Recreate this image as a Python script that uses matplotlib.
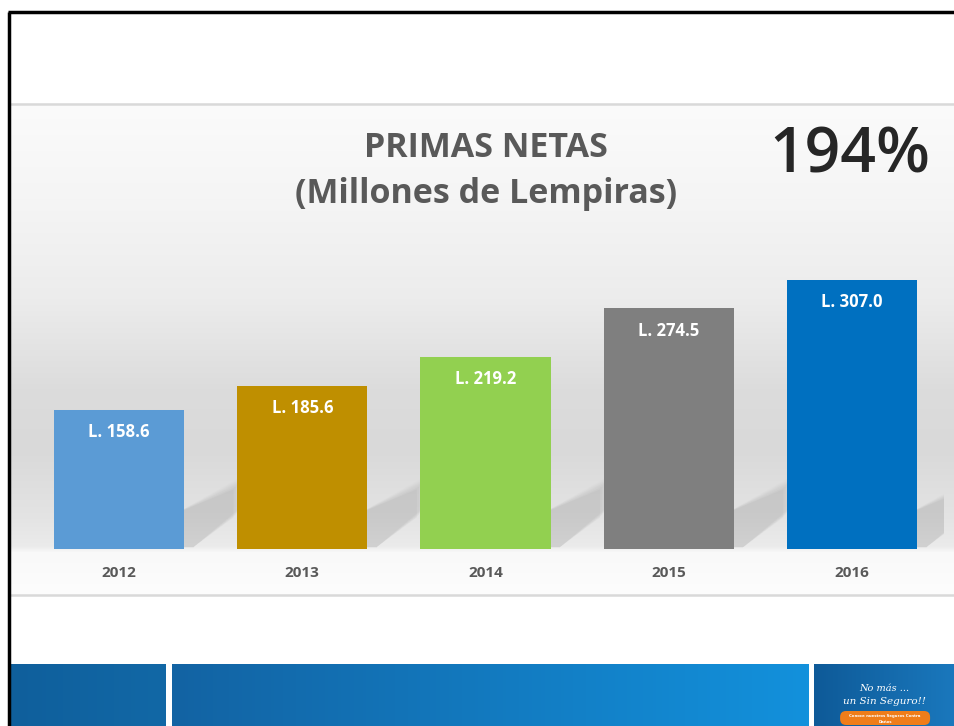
import numpy as np
import matplotlib.pyplot as plt
from matplotlib.colors import to_rgb
from matplotlib.patches import Polygon, FancyBboxPatch, Rectangle

years = ['2012', '2013', '2014', '2015', '2016']
primas = [158.6, 185.6, 219.2, 274.5, 307.0]
bar_colors = ['#5b9bd5', '#bf8f00', '#92d050', '#7f7f7f', '#0070c0']
growth = '194%'

W, H = 954, 726
# small epsilon so the canvas is not rounded down to 953 px
fig = plt.figure(figsize=(W / 100 + 0.001, H / 100 + 0.001), dpi=100,
                 facecolor='white')

# background layer in pixel coords (y grows downward)
bg = fig.add_axes([0, 0, 1, 1])
bg.axis('off')

# panel gradient behind the chart
stops = [(104, '#fbfbfb'), (200, '#f5f5f5'), (300, '#ececec'), (390, '#dcdcdc'),
         (450, '#d9d9d9'), (520, '#e4e4e4'), (547, '#ebebeb'), (553, '#f9f9f9'),
         (595, '#fdfdfd')]
ys = np.arange(104, 596)
sy = [s[0] for s in stops]
rgb = np.array([to_rgb(s[1]) for s in stops])
grad = np.stack([np.interp(ys, sy, rgb[:, k]) for k in range(3)], axis=-1)
bg.imshow(grad[:, None, :], extent=[10, W, 595, 104], aspect='auto', zorder=0)


def blue_box(x0, x1, c0, c1):
    t = np.linspace(0, 1, 200)
    c0, c1 = np.array(to_rgb(c0)), np.array(to_rgb(c1))
    img = (c0[None, :] * (1 - t[:, None]) + c1[None, :] * t[:, None])[None, :, :]
    bg.imshow(img, extent=[x0, x1, H, 665], aspect='auto', zorder=2)


blue_box(11, 165, '#0f5f9c', '#1268a6')
blue_box(172, 808, '#1263a3', '#1291dc')
blue_box(814, W, '#0e5a98', '#1a78bd')

bg.set_xlim(0, W)
bg.set_ylim(H, 0)

# white cover for the areas outside the panels
bg.add_patch(Rectangle((10, 14), W - 10, 89, fc='white', ec='none', zorder=0.5))
bg.add_patch(Rectangle((10, 597), W - 10, 67, fc='white', ec='none', zorder=0.5))

bg.plot([10, W], [104, 104], color='#d9d9d9', lw=1.8, zorder=1)
bg.plot([10, W], [595, 595], color='#d9d9d9', lw=1.8, zorder=1)

# frame (left and top only)
bg.plot([9, 9], [H, 12], color='black', lw=2.5, zorder=5, solid_capstyle='butt')
bg.plot([8, W], [12, 12], color='black', lw=2.5, zorder=5, solid_capstyle='butt')

bg.text(884, 688, 'No más ...', color='white', fontsize=7, style='italic',
        ha='center', va='center', family='DejaVu Serif', zorder=6)
bg.text(884, 701, 'un Sin Seguro!!', color='white', fontsize=7.5, style='italic',
        ha='center', va='center', family='DejaVu Serif', zorder=6)
pill = FancyBboxPatch((840, 711), 90, 14, boxstyle='round,pad=0,rounding_size=6',
                      fc='#ef7d1a', ec='none', zorder=6)
bg.add_patch(pill)
bg.text(885, 716, 'Conoce nuestros Seguros Contra', color='white', fontsize=2.8,
        ha='center', va='center', zorder=7, weight='bold')
bg.text(885, 722, 'Daños', color='white', fontsize=2.8,
        ha='center', va='center', zorder=7, weight='bold')

# chart axes: baseline at y=549 px, 307 at y=280 px
px_per_unit = (549 - 280) / 307.0
ax_left, ax_right = 27.4, 943.6
ax = fig.add_axes([ax_left / W, (H - 549) / H, (ax_right - ax_left) / W,
                   (549 - 104) / H])
ax.patch.set_alpha(0)
ax.set_xlim(-0.5, 4.5)
ax.set_ylim(0, (549 - 104) / px_per_unit)
for s in ax.spines.values():
    s.set_visible(False)
ax.tick_params(left=False, labelleft=False, bottom=False, pad=9)

x = np.arange(len(years))
width = 0.71

# soft shadows behind each bar
for xi, v in zip(x, primas):
    xr = xi + width / 2
    for k, a in enumerate(np.linspace(0.045, 0.015, 7)):
        g = k * 0.012
        sh = Polygon([(xr - 0.05, 2), (xr + 0.05, 2),
                      (xr + 0.27 + g, 36 + k * 3), (xr + 0.27 + g, 68 + k * 3),
                      (xr - 0.05, 40)],
                     closed=True, fc='#6e6e6e', ec='none', alpha=a, zorder=1)
        ax.add_patch(sh)

ax.bar(x, primas, width=width, color=bar_colors, zorder=3)
for xi, v in zip(x, primas):
    ax.text(xi, v - 22 / px_per_unit, f'L. {v:.1f}', color='white', fontsize=12,
            weight='bold', ha='center', va='center', family='Open Sans', zorder=4)

ax.set_xticks(x)
ax.set_xticklabels(years, fontsize=11, weight='bold', color='#595959',
                   family='Open Sans')

# titles
bg.text(486, 148, 'PRIMAS NETAS', fontsize=24.5, weight='bold', color='#595959',
        ha='center', va='center', family='Open Sans', zorder=6)
bg.text(486, 194, '(Millones de Lempiras)', fontsize=24.5, weight='bold',
        color='#595959', ha='center', va='center', family='Open Sans', zorder=6)
bg.text(850, 156, growth, fontsize=45, weight='semibold', color='#262626',
        ha='center', va='center', family='Open Sans', zorder=6)

fig.savefig('out.png', dpi=100, facecolor='white')
